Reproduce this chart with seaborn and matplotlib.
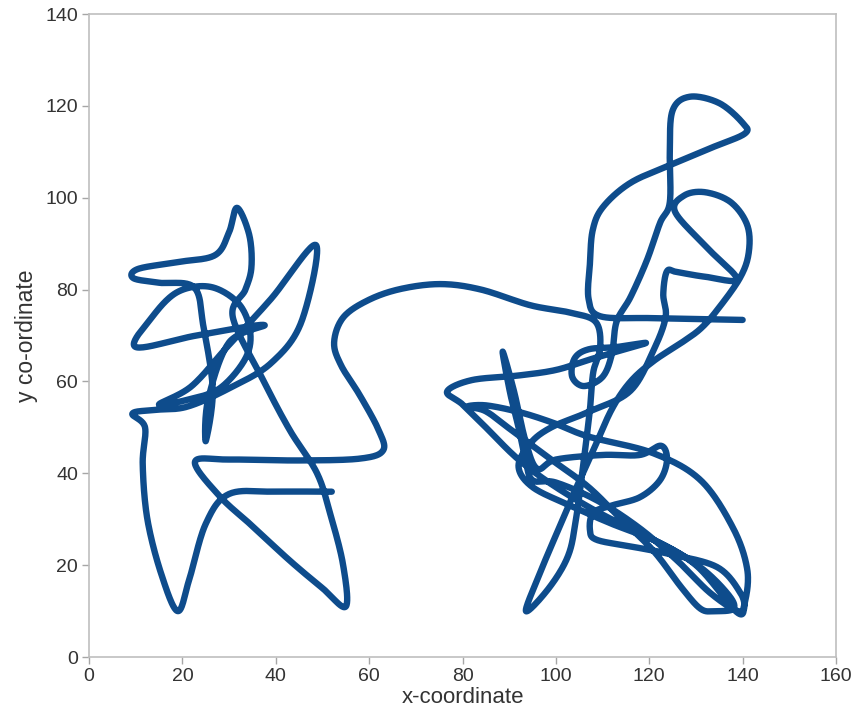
import numpy as np
import pandas as pd
import matplotlib
matplotlib.use("Agg")
import matplotlib.pyplot as plt
import seaborn as sns

# points of the smoothed scatter line (in drawing order)
left_x = [52, 40, 30, 25, 21.5, 19,
          15.5, 12.5, 11.5, 12, 9.3, 14, 21,
          30, 39, 45.5, 48.6,
          39, 30, 22, 15,
          21, 28, 33.5, 34.5, 32, 26, 19, 13.5, 10,
          23, 37.5, 30, 25.5, 25, 26.5, 24.5, 22.5,
          15, 9.5, 10.5, 19, 27, 30, 31.7,
          34.3, 34.8, 33.5, 30.8,
          37.3, 43, 48.8, 51.6, 54.4, 55,
          50, 43, 35, 28, 22.7]
left_y = [36, 36, 35.5, 29, 17, 10,
          18, 30, 42, 50, 53, 53.8, 54.5,
          58.5, 64, 73, 89.7,
          78, 68, 59, 55,
          56, 58.5, 65, 71, 77, 80.6, 79.5, 74, 67.5,
          70, 72.3, 68.5, 56, 47, 58, 72, 80.5,
          81.5, 82.5, 84.5, 86, 87.5, 92.5, 97.8,
          92, 85, 80, 74,
          60.3, 49.4, 40.1, 31.4, 20.2, 11,
          15, 21, 28.5, 35, 42.5]

bridge_x = [30, 45, 58, 63, 62, 58, 54, 52.5, 54.5, 60, 67, 75.5, 84, 94.5, 103]
bridge_y = [43, 42.8, 43.2, 45, 49.5, 57, 63.5, 68.5, 74, 77.8, 80.2, 81.2, 80, 76.6, 75]

right_x = [108.5, 109.5, 108, 107.3, 106, 104.3, 102.6, 98.5, 93.6,
           96.6, 100.2, 104, 108, 112, 116, 121, 127, 131, 134.5, 139.4,
           141.3, 141, 137.5, 132, 127.5, 125.5,
           132, 138.8, 132, 126, 123.8, 123, 123.5,
           121, 116, 107.3, 99, 94.5, 92, 95, 103, 112, 122, 131, 137, 138, 134, 131,
           127, 121, 114, 107, 99, 91, 85, 81,
           85, 92.3, 99.4, 107, 120.8, 131, 138, 141, 140.5, 139,
           133, 126, 118, 109, 100, 95, 93.5, 92, 90.2, 88.6,
           91, 93.5, 96, 100, 110, 118, 122.5, 123.8, 122.3, 118, 112,
           108, 107.3, 108.8, 116.5, 124, 134.5, 139.5, 140.3, 138.5,
           130, 120, 110, 100, 92, 85, 80, 76.7,
           82, 92, 100, 107, 114, 119.3,
           113, 107, 104, 103.5, 106, 110, 112, 113, 116, 119.5, 122.3, 124.4,
           124.4, 125, 128.7, 135, 140, 140.5, 133.6, 124.4, 115.9, 110.1,
           107.9, 107.3, 107, 109.5, 120, 130, 140]
right_y = [73, 67.5, 62, 54, 43, 30, 22, 15, 10,
           18.3, 27, 36, 45, 54, 60, 64.5, 68.5, 71.5, 75.5, 82.5,
           88, 94, 99, 101.2, 100.5, 97,
           89.5, 82.3, 82.8, 83.8, 84, 79, 74,
           67, 58, 53.5, 50, 46.5, 41.5, 37, 33, 29, 25, 19.5, 13.5, 10.5, 10, 10.5,
           15, 23, 30, 37, 43, 49, 53.5, 54.5,
           54.8, 53.3, 51, 48, 44.4, 38.5, 28, 19, 12, 10,
           14, 21, 28, 34, 38, 38.5, 43, 50, 57.5, 66.5,
           58, 47, 41, 43, 44, 44, 46, 43, 38.5, 34.8, 33,
           31.4, 27.6, 25.5, 24, 22.5, 19.6, 14, 10.5, 10,
           20, 26, 31, 37, 43, 50, 55, 57.8,
           60.3, 61.3, 62.5, 64.7, 66.8, 68.4,
           67.5, 67, 65, 61, 59, 61, 66, 73, 78.4, 86.4, 94.5, 99,
           110, 119, 122, 120.6, 116.3, 114, 111, 107.1, 103.2, 98,
           93, 85.8, 78, 74.2, 73.8, 73.6, 73.4]

x_ticks = [0, 20, 40, 60, 80, 100, 120, 140, 160]
y_ticks = [0, 20, 40, 60, 80, 100, 120, 140]


def smooth(px, py, n=24):
    # spreadsheet style smoothing: cubic bezier through every point
    p = np.column_stack([px, py]).astype(float)
    p = np.vstack([p[0], p, p[-1]])
    t = np.linspace(0, 1, n, endpoint=False)[:, None]
    out = []
    for i in range(1, len(p) - 2):
        p0, p1, p2, p3 = p[i - 1], p[i], p[i + 1], p[i + 2]
        c1 = p1 + (p2 - p0) / 6
        c2 = p2 - (p3 - p1) / 6
        seg = ((1 - t) ** 3) * p1 + 3 * ((1 - t) ** 2) * t * c1 \
            + 3 * (1 - t) * t ** 2 * c2 + t ** 3 * p2
        out.append(seg)
    out.append(p[-2][None, :])
    out = np.vstack(out)
    return out[:, 0], out[:, 1]


all_x = left_x + bridge_x + right_x
all_y = left_y + bridge_y + right_y
sx, sy = smooth(all_x, all_y)
curve = pd.DataFrame({"x": sx, "y": sy})

sns.set_theme(style="white")
plt.rcParams["font.family"] = ["Liberation Sans", "DejaVu Sans"]

fig = plt.figure(figsize=(8.6, 7.13), dpi=100)
ax = fig.add_axes([0.1035, 0.0785, 0.8686, 0.9018])

sns.lineplot(
    data=curve,
    x="x",
    y="y",
    sort=False,
    estimator=None,
    color="#0E4C8C",
    linewidth=4.6,
    ax=ax
)
for line in ax.get_lines():
    line.set_solid_capstyle("round")
    line.set_solid_joinstyle("round")

ax.set_xlim(0, 160)
ax.set_ylim(0, 140)
ax.set_xticks(x_ticks)
ax.set_yticks(y_ticks)

for side in ["left", "right", "top", "bottom"]:
    ax.spines[side].set_color("#BFBFBF")
    ax.spines[side].set_linewidth(1.2)

ax.tick_params(
    bottom=True, left=True, direction="out", length=5, width=1,
    color="#A6A6A6", labelsize=14, labelcolor="#333333", pad=3
)

ax.set_xlabel("x-coordinate", fontsize=16, color="#333333", labelpad=1)
ax.set_ylabel("y co-ordinate", fontsize=16.5, color="#333333", labelpad=5)

fig.savefig("out.png", dpi=100)
